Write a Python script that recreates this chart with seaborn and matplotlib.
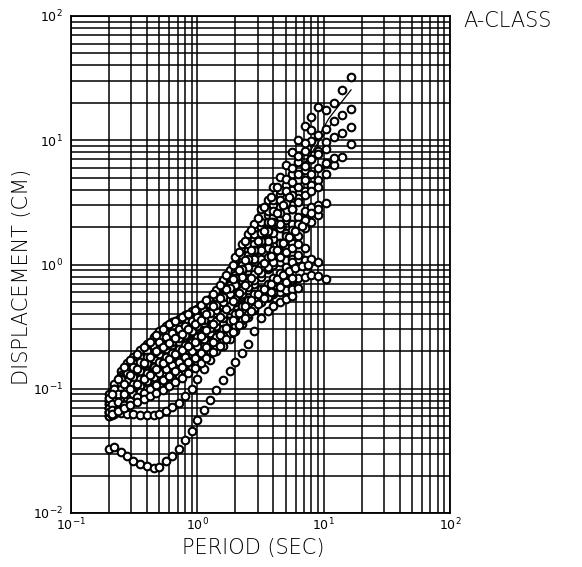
import matplotlib
matplotlib.use("Agg")
import matplotlib.pyplot as plt
import pandas as pd
import seaborn as sns
from matplotlib.ticker import LogLocator, NullFormatter, FixedLocator

# ---------------- data ----------------
periods = [0.20, 0.22, 0.25, 0.28, 0.31, 0.35, 0.40, 0.45, 0.50, 0.56, 0.63, 0.71,
           0.80, 0.90, 1.0, 1.12, 1.25, 1.4, 1.6, 1.8, 2.0, 2.25, 2.5, 2.8, 3.2,
           3.6, 4.0, 4.5, 5.0, 5.6, 6.3, 7.1, 8.0, 9.0, 10.5, 12.0, 14.0, 16.5]
periods2 = [0.21, 0.235, 0.265, 0.295, 0.33, 0.375, 0.425, 0.475, 0.53, 0.595, 0.67,
            0.755, 0.85, 0.95, 1.06, 1.18, 1.32, 1.5, 1.7, 1.9, 2.12, 2.38, 2.65, 3.0,
            3.4, 3.8, 4.25, 4.75, 5.3, 5.95, 6.7, 7.55]

s1 = [0.075, 0.10, 0.14, 0.16, 0.18, 0.205, 0.23, 0.26, 0.29, 0.32, 0.345, 0.365,
      0.39, 0.42, 0.44, 0.48, 0.53, 0.62, 0.75, 0.90, 1.15, 1.45, 1.75, 2.1, 2.8,
      3.3, 4.2, 5.1, 6.3, 8.0, 10.0, 13.0, 15.5, 18.5, 17.5, 20.0, 25.5, 32.5]
s2 = [0.085, 0.095, 0.12, 0.14, 0.155, 0.17, 0.19, 0.21, 0.23, 0.25, 0.27, 0.29,
      0.31, 0.33, 0.36, 0.40, 0.45, 0.52, 0.62, 0.75, 0.88, 1.05, 1.3, 1.6, 2.0,
      2.5, 3.0, 3.7, 4.4, 5.4, 6.7, 8.2, 9.8, 11.0, 12.3, 14.4, 16.0, 17.8]
s3 = [0.07, 0.08, 0.095, 0.11, 0.12, 0.135, 0.15, 0.165, 0.18, 0.195, 0.21, 0.23,
      0.25, 0.27, 0.30, 0.33, 0.37, 0.42, 0.50, 0.60, 0.72, 0.88, 1.05, 1.3, 1.6,
      2.0, 2.4, 2.9, 3.4, 4.0, 4.8, 5.8, 7.0, 8.2, 9.6, 10.6, 11.5, 12.7]
s4 = [0.065, 0.075, 0.085, 0.095, 0.105, 0.115, 0.125, 0.14, 0.15, 0.165, 0.18, 0.195,
      0.21, 0.23, 0.25, 0.28, 0.31, 0.35, 0.41, 0.48, 0.56, 0.66, 0.78, 0.92, 1.1,
      1.35, 1.6, 1.95, 2.3, 2.8, 3.3, 3.9, 4.4, 4.8, 5.4, 6.3, 7.3, 9.3]
m1 = [0.06, 0.07, 0.08, 0.09, 0.10, 0.11, 0.12, 0.13, 0.14, 0.15, 0.16, 0.175,
      0.19, 0.205, 0.22, 0.24, 0.27, 0.30, 0.34, 0.40, 0.46, 0.54, 0.64, 0.75, 0.90,
      1.05, 1.25, 1.5, 1.8, 2.1, 2.4, 2.7, 2.9, 3.0]
m2 = [0.07, 0.075, 0.085, 0.095, 0.105, 0.115, 0.125, 0.14, 0.155, 0.17, 0.185, 0.20,
      0.22, 0.24, 0.26, 0.29, 0.32, 0.36, 0.40, 0.45, 0.50, 0.56, 0.62, 0.70, 0.80,
      0.92, 1.05, 1.2, 1.35, 1.5, 1.7, 1.95, 2.2, 2.5]
k1 = [0.08, 0.09, 0.105, 0.12, 0.13, 0.14, 0.155, 0.17, 0.185, 0.20, 0.215, 0.235,
      0.255, 0.28, 0.31, 0.35, 0.40, 0.47, 0.56, 0.67, 0.80, 0.95, 1.1, 1.3, 1.55,
      1.8, 2.1, 2.4, 2.7, 3.0, 3.4]
p1 = [0.09, 0.11, 0.13, 0.15, 0.16, 0.175, 0.19, 0.20, 0.21, 0.22, 0.23, 0.25,
      0.27, 0.29, 0.31, 0.34, 0.37, 0.41, 0.46, 0.52, 0.58, 0.65, 0.72, 0.80, 0.88,
      0.95, 1.0, 1.05, 1.08, 1.1, 1.1, 1.08, 1.1, 1.05]
p2 = [0.065, 0.07, 0.08, 0.09, 0.10, 0.11, 0.12, 0.13, 0.14, 0.15, 0.16, 0.17,
      0.18, 0.19, 0.20, 0.22, 0.24, 0.27, 0.30, 0.34, 0.38, 0.43, 0.48, 0.53, 0.58,
      0.62, 0.66, 0.70, 0.72, 0.75, 0.78, 0.80, 0.82, 0.81, 0.76]
lo = [0.062, 0.063, 0.064, 0.063, 0.063, 0.062, 0.062, 0.062, 0.063, 0.066, 0.071, 0.077,
      0.088, 0.10, 0.12, 0.145, 0.17, 0.20, 0.22, 0.25, 0.29, 0.33, 0.38, 0.43, 0.50,
      0.55, 0.58, 0.60, 0.62, 0.64, 0.65]
bot = [0.033, 0.034, 0.031, 0.0285, 0.026, 0.025, 0.024, 0.023, 0.0235, 0.026, 0.029, 0.033,
       0.039, 0.046, 0.056, 0.068, 0.081, 0.097, 0.117, 0.14, 0.163, 0.194, 0.228, 0.29, 0.37,
       0.42, 0.46, 0.50, 0.53, 0.56]
a1 = [0.08, 0.10, 0.125, 0.145, 0.16, 0.18, 0.20, 0.22, 0.24, 0.26, 0.28, 0.30,
      0.32, 0.35, 0.38, 0.42, 0.47, 0.55, 0.66, 0.80, 0.97, 1.2, 1.45, 1.75, 2.2,
      2.7, 3.3, 4.0, 4.9, 6.0, 7.5, 9.5, 12.0]
a2 = [0.075, 0.09, 0.11, 0.125, 0.14, 0.155, 0.175, 0.19, 0.205, 0.22, 0.24, 0.26,
      0.28, 0.30, 0.33, 0.37, 0.42, 0.48, 0.57, 0.68, 0.82, 1.0, 1.2, 1.45, 1.8,
      2.2, 2.7, 3.3, 3.9, 4.6, 5.4, 6.2, 7.0, 7.8, 8.5]
a3 = [0.07, 0.085, 0.10, 0.115, 0.125, 0.14, 0.16, 0.175, 0.19, 0.21, 0.225, 0.24,
      0.26, 0.285, 0.31, 0.34, 0.38, 0.43, 0.50, 0.58, 0.68, 0.80, 0.95, 1.1, 1.3,
      1.55, 1.8, 2.1, 2.4, 2.8, 3.2, 3.6, 3.9, 4.2]
a4 = [0.06, 0.068, 0.075, 0.085, 0.095, 0.105, 0.115, 0.125, 0.135, 0.145, 0.155, 0.165,
      0.18, 0.20, 0.22, 0.25, 0.28, 0.32, 0.37, 0.43, 0.50, 0.58, 0.66, 0.75, 0.85,
      0.95, 1.05, 1.15, 1.25, 1.35, 1.45]
a5 = [0.065, 0.07, 0.075, 0.08, 0.085, 0.09, 0.095, 0.10, 0.11, 0.12, 0.13, 0.14,
      0.15, 0.165, 0.18, 0.20, 0.23, 0.26, 0.30, 0.35, 0.40, 0.46, 0.52, 0.58, 0.64,
      0.70, 0.78, 0.86, 0.95, 1.05, 1.2, 1.35]
a6 = [0.07, 0.08, 0.09, 0.10, 0.11, 0.12, 0.135, 0.15, 0.165, 0.18, 0.195, 0.21,
      0.225, 0.24, 0.26, 0.28, 0.31, 0.35, 0.40, 0.46, 0.53, 0.62, 0.72, 0.84, 0.98,
      1.15, 1.3, 1.5, 1.7, 1.9, 2.1, 2.3, 2.6, 2.8, 3.1]
a7 = [0.065, 0.072, 0.08, 0.085, 0.09, 0.095, 0.10, 0.105, 0.11, 0.115, 0.12, 0.13,
      0.14, 0.15, 0.165, 0.18, 0.20, 0.22, 0.25, 0.28, 0.32, 0.36, 0.40, 0.45, 0.50,
      0.55, 0.60, 0.66, 0.72, 0.78]
a8 = [0.085, 0.10, 0.12, 0.135, 0.15, 0.165, 0.18, 0.195, 0.21, 0.225, 0.24, 0.255,
      0.27, 0.29, 0.32, 0.36, 0.41, 0.47, 0.55, 0.65, 0.78, 0.92, 1.1, 1.3, 1.55,
      1.85, 2.2, 2.6, 3.1, 3.6, 4.2, 4.8, 5.4, 6.0, 6.6, 7.2]
# records sampled on the second period list
b1 = [0.075, 0.09, 0.11, 0.13, 0.145, 0.16, 0.18, 0.20, 0.215, 0.235, 0.255, 0.275,
      0.30, 0.33, 0.36, 0.40, 0.46, 0.54, 0.64, 0.76, 0.90, 1.08, 1.3, 1.55, 1.85,
      2.2, 2.6, 3.0, 3.5]
b2 = [0.068, 0.078, 0.09, 0.10, 0.11, 0.12, 0.13, 0.145, 0.16, 0.175, 0.19, 0.205,
      0.22, 0.24, 0.265, 0.295, 0.33, 0.38, 0.44, 0.51, 0.59, 0.68, 0.78, 0.90, 1.03,
      1.17, 1.32, 1.48, 1.65, 1.85, 2.05]
b3 = [0.062, 0.068, 0.074, 0.08, 0.086, 0.093, 0.10, 0.108, 0.117, 0.127, 0.138, 0.15,
      0.163, 0.178, 0.195, 0.215, 0.24, 0.27, 0.31, 0.355, 0.405, 0.46, 0.52, 0.58, 0.64,
      0.70, 0.76, 0.82, 0.88, 0.93, 0.97, 1.0]
b4 = [0.09, 0.12, 0.15, 0.17, 0.19, 0.215, 0.24, 0.27, 0.30, 0.33, 0.35, 0.375,
      0.40, 0.43, 0.47, 0.52, 0.58, 0.68, 0.82, 1.0, 1.25, 1.55, 1.9, 2.35, 2.9,
      3.5, 4.2]
b5 = [0.063, 0.066, 0.07, 0.074, 0.078, 0.082, 0.087, 0.092, 0.098, 0.105, 0.113, 0.122,
      0.133, 0.146, 0.16, 0.177, 0.197, 0.22, 0.25, 0.285, 0.325, 0.37, 0.42, 0.48, 0.54,
      0.60]

# fitted lines (no markers)
line_a_T = [1.0, 1.5, 2.0, 3.0, 4.0, 6.0, 8.0, 11.0, 16.5]
line_a_D = [0.33, 0.5, 0.75, 1.2, 1.8, 4.5, 8.5, 15.0, 25.5]
line_b_T = [1.5, 2.5, 3.5, 5.1, 7.0, 9.0, 12.0]
line_b_D = [0.5, 1.1, 2.0, 3.56, 6.3, 9.5, 14.3]

x_ticks = [0.1, 1, 10, 100]
x_tick_labels = [r"$10^{-1}$", r"$10^{0}$", r"$10^{1}$", r"$10^{2}$"]
y_ticks = [0.01, 0.1, 1, 10, 100]
y_tick_labels = [r"$10^{-2}$", r"$10^{-1}$", r"$10^{0}$", r"$10^{1}$", r"$10^{2}$"]

series = {"s1": (periods, s1), "s2": (periods, s2), "s3": (periods, s3),
          "s4": (periods, s4), "m1": (periods, m1), "m2": (periods, m2),
          "k1": (periods, k1), "p1": (periods, p1), "p2": (periods, p2),
          "lo": (periods, lo), "bot": (periods, bot), "a1": (periods, a1),
          "a2": (periods, a2), "a3": (periods, a3), "a4": (periods, a4),
          "a5": (periods, a5), "a6": (periods, a6), "a7": (periods, a7),
          "a8": (periods, a8), "b1": (periods2, b1), "b2": (periods2, b2),
          "b3": (periods2, b3), "b4": (periods2, b4), "b5": (periods2, b5)}
rows = []
for name, (ts, vals) in series.items():
    for t, d in zip(ts, vals):
        rows.append((name, t, d))
df = pd.DataFrame(rows, columns=["record", "period", "disp"])

# ---------------- plot ----------------
sns.set_style("white")
plt.rcParams["font.family"] = ["DejaVu Sans"]
plt.rcParams["mathtext.fontset"] = "dejavusans"
plt.rcParams["text.color"] = "black"

W, H = 582, 567
fig = plt.figure(figsize=(W / 100, H / 100), dpi=100)
ax = fig.add_axes([71 / W, 1 - 513 / H, (450 - 71) / W, (513 - 16) / H])
ax.set_xscale("log")
ax.set_yscale("log")
ax.set_xlim(0.1, 100)
ax.set_ylim(0.01, 100)

ax.xaxis.set_major_locator(FixedLocator(x_ticks))
ax.yaxis.set_major_locator(FixedLocator(y_ticks))
ax.xaxis.set_minor_locator(LogLocator(base=10, subs=range(2, 10)))
ax.yaxis.set_minor_locator(LogLocator(base=10, subs=range(2, 10)))
ax.xaxis.set_minor_formatter(NullFormatter())
ax.yaxis.set_minor_formatter(NullFormatter())
ax.set_xticklabels(x_tick_labels)
ax.set_yticklabels(y_tick_labels)
ax.grid(True, which="both", color="black", linewidth=1.1)
ax.set_axisbelow(True)
ax.tick_params(which="both", length=0, labelsize=9, colors="black")
ax.tick_params(axis="x", pad=3)
ax.tick_params(axis="y", pad=6)
for sp in ax.spines.values():
    sp.set_color("black")
    sp.set_linewidth(1.3)

sns.lineplot(x=line_a_T, y=line_a_D, ax=ax, color="black", linewidth=0.9,
             estimator=None, sort=False, zorder=3)
sns.lineplot(x=line_b_T, y=line_b_D, ax=ax, color="black", linewidth=0.9,
             estimator=None, sort=False, zorder=3)
sns.scatterplot(data=df, x="period", y="disp", ax=ax, marker="o", s=30,
                facecolor="white", edgecolor="black", linewidth=1.5,
                legend=False, zorder=4)
ax.set_xlabel("")
ax.set_ylabel("")

fig.text(253 / W, 1 - 548 / H, "PERIOD (SEC)", ha="center", va="center",
         fontsize=15, fontweight="light", color="black")
fig.text(22 / W, 1 - 277 / H, "DISPLACEMENT (CM)", ha="center", va="center",
         rotation=90, fontsize=15, fontweight="light", color="black")
fig.text(463 / W, 1 - 21 / H, "A-CLASS", ha="left", va="center",
         fontsize=15, fontweight="light", color="black")

fig.savefig("out.png", dpi=100)
